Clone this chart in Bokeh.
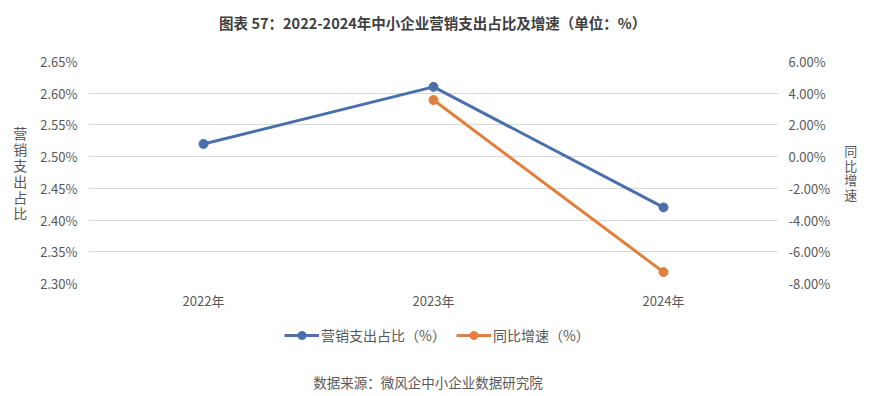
from bokeh.plotting import figure
from bokeh.layouts import column
from bokeh.models import (Range1d, LinearAxis, FixedTicker, CustomJSTickFormatter,
                          Legend, LegendItem, Label, ColumnDataSource)
from bokeh.embed import file_html
from bokeh.resources import INLINE

years = ["2022年", "2023年", "2024年"]
share = [2.52, 2.61, 2.42]          # 营销支出占比 (%)
growth_years = ["2023年", "2024年"]
growth = [3.57, -7.28]              # 同比增速 (%)
left_ticks = [2.30, 2.35, 2.40, 2.45, 2.50, 2.55, 2.60, 2.65]
right_ticks = [-8, -6, -4, -2, 0, 2, 4, 6]
series_names = ["营销支出占比（%）", "同比增速（%）"]
title_text = "图表 57：2022-2024年中小企业营销支出占比及增速（单位：%）"
source_text = "数据来源：微风企中小企业数据研究院"

FONT = "Noto Sans CJK SC"
BLUE = "#4A6FAC"
ORANGE = "#E0803F"
GREY = "#595959"

W = 860
H_TOP = 44
H_MAIN = 268
H_FOOT = 80


def blank(h):
    b = figure(width=W, height=h, x_range=Range1d(0, W), y_range=Range1d(h, 0),
               x_axis_type=None, y_axis_type=None,
               output_backend="svg", toolbar_location=None,
               min_border_left=0, min_border_right=0, min_border_top=0, min_border_bottom=0)
    b.grid.visible = False
    b.outline_line_color = None
    return b


# header with the title
t = blank(H_TOP)
t.add_layout(Label(x=429, y=22, text=title_text, text_align="center", text_baseline="middle",
                   text_font=FONT, text_font_size="14.5px", text_font_style="bold",
                   text_color="#404040"))

# main chart
p = figure(width=W, height=H_MAIN, x_range=years, y_range=Range1d(2.30, 2.65),
           output_backend="svg", toolbar_location=None,
           min_border_left=88, min_border_right=82, min_border_top=17, min_border_bottom=28)
p.extra_y_ranges = {"g": Range1d(-8, 6)}
p.outline_line_color = None
p.background_fill_color = "white"

p.xgrid.grid_line_color = None
p.ygrid.grid_line_color = "#D9D9D9"
p.ygrid.grid_line_width = 1
p.ygrid.ticker = FixedTicker(ticks=left_ticks)

ya = p.yaxis[0]
ya.ticker = FixedTicker(ticks=left_ticks)
ya.formatter = CustomJSTickFormatter(code="return tick.toFixed(2) + '%';")
ya.axis_line_color = None
ya.major_tick_line_color = None
ya.minor_tick_line_color = None
ya.major_label_text_font = FONT
ya.major_label_text_font_size = "13px"
ya.major_label_text_color = GREY
ya.major_label_standoff = 5
ya.axis_label = "\n".join("营销支出占比")
ya.axis_label_orientation = "horizontal"
ya.axis_label_text_font = FONT
ya.axis_label_text_font_size = "14px"
ya.axis_label_text_font_style = "normal"
ya.axis_label_text_color = GREY
ya.axis_label_standoff = 10
ya.axis_label_text_line_height = 0.8

ra = LinearAxis(y_range_name="g", ticker=FixedTicker(ticks=right_ticks),
                formatter=CustomJSTickFormatter(code="return tick.toFixed(2) + '%';"))
ra.axis_line_color = None
ra.major_tick_line_color = None
ra.minor_tick_line_color = None
ra.major_label_text_font = FONT
ra.major_label_text_font_size = "13px"
ra.major_label_text_color = GREY
ra.major_label_standoff = 4
ra.axis_label = "\n".join("同比增速")
ra.axis_label_orientation = "horizontal"
ra.axis_label_text_font = FONT
ra.axis_label_text_font_size = "13px"
ra.axis_label_text_font_style = "normal"
ra.axis_label_text_color = GREY
ra.axis_label_standoff = 11
ra.axis_label_text_line_height = 0.78
p.add_layout(ra, "right")

xa = p.xaxis[0]
xa.axis_line_color = None
xa.major_tick_line_color = None
xa.minor_tick_line_color = None
xa.major_label_text_font = FONT
xa.major_label_text_font_size = "13px"
xa.major_label_text_color = GREY
xa.major_label_standoff = 1

s1 = ColumnDataSource(dict(x=years, y=share))
s2 = ColumnDataSource(dict(x=growth_years, y=growth))
p.line("x", "y", source=s1, line_color=BLUE, line_width=3)
p.scatter("x", "y", source=s1, size=9, fill_color=BLUE, line_color=BLUE)
p.line("x", "y", source=s2, line_color=ORANGE, line_width=3, y_range_name="g")
p.scatter("x", "y", source=s2, size=9, fill_color=ORANGE, line_color=ORANGE, y_range_name="g")

# footer: legend and source note
f = blank(H_FOOT)
# legend proxies: styled like the series, kept outside the visible range
proxy = ColumnDataSource(dict(x=[-50, -40], y=[-50, -50]))
fl1 = f.line("x", "y", source=proxy, line_color=BLUE, line_width=3)
fc1 = f.scatter("x", "y", source=proxy, size=9, fill_color=BLUE, line_color=BLUE)
fl2 = f.line("x", "y", source=proxy, line_color=ORANGE, line_width=3)
fc2 = f.scatter("x", "y", source=proxy, size=9, fill_color=ORANGE, line_color=ORANGE)
legend = Legend(items=[LegendItem(label=series_names[0], renderers=[fl1, fc1]),
                       LegendItem(label=series_names[1], renderers=[fl2, fc2])],
                orientation="horizontal", location=(196, 47),
                label_text_font=FONT, label_text_font_size="14px", label_text_color=GREY,
                border_line_color=None, background_fill_alpha=0,
                glyph_width=35, glyph_height=20, label_standoff=2, spacing=10,
                padding=4, margin=0)
f.add_layout(legend, "center")
f.add_layout(Label(x=423, y=69, text=source_text,
                   text_align="center", text_baseline="middle",
                   text_font=FONT, text_font_size="13.5px", text_color=GREY))

layout = column(t, p, f, spacing=0)
open("out.html", "w").write(file_html(layout, INLINE))
